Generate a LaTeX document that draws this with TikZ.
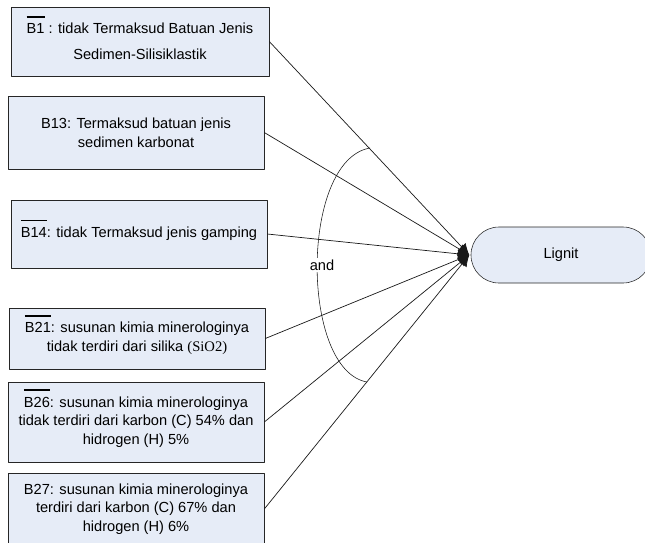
\documentclass[tikz,border=0pt]{standalone}
\usepackage{fontspec}
\setmainfont{Liberation Sans}
\newfontfamily\timesfont{Liberation Serif}
\usetikzlibrary{arrows.meta}
\definecolor{boxblue}{RGB}{230,236,247}
% garis atas untuk premis negasi
\newcommand{\notB}[1]{\setbox0\hbox{#1}\rlap{\smash{\raisebox{1.12em}{\rule{\wd0}{1pt}}}}\box0\relax}
\begin{document}
\begin{tikzpicture}[x=0.025cm, y=-0.025cm, line join=round,
		font=\fontsize{10.4}{13.2}\selectfont,
		rule/.style={draw=black!85, fill=boxblue, align=center, inner sep=2pt, minimum width=6.4cm},
		goal/.style={draw=black!85, fill=boxblue, rounded corners=0.7cm, minimum width=4.5cm, minimum height=1.4cm},
		conn/.style={draw=black!90, line width=0.5pt, -{Latex[length=8pt,width=8pt]}}]
	\useasboundingbox (0,0) rectangle (645,542);
	\clip (0,0) rectangle (645,542);
	% premis
	\node[rule, minimum width=6.45cm, minimum height=1.725cm] (b1) at (140,41.5)
		{\notB{B1} : tidak Termaksud Batuan Jenis\\[5pt]Sedimen-Silisiklastik};
	\node[rule, minimum height=1.825cm] (b13) at (136,132.5)
		{B13: Termaksud batuan jenis\\sedimen karbonat};
	\node[rule, minimum height=1.7cm] (b14) at (139,234)
		{\notB{B14}: tidak Termaksud jenis gamping};
	\node[rule, minimum height=1.525cm] (b21) at (137,338.5)
		{\notB{B21}: susunan kimia minerologinya\\tidak terdiri dari silika {\timesfont(SiO2)}};
	\node[rule, minimum height=2cm] (b26) at (136,422)
		{\notB{B26}: susunan kimia minerologinya\\tidak terdiri dari karbon (C) 54\% dan\\hidrogen (H) 5\%};
	\node[rule, minimum height=1.8cm] (b27) at (136,509)
		{B27: susunan kimia minerologinya\\terdiri dari karbon (C) 67\% dan\\hidrogen (H) 6\%};
	% kesimpulan
	\node[goal] (lignit) at (561,255) {Lignit};
	\coordinate (tip) at ([xshift=-1pt]lignit.west);
	\foreach \b in {b1,b13,b14,b21,b26,b27}
		\draw[conn] (\b.east) -- (tip);
	% busur and
	\coordinate (atas) at (370,148);
	\coordinate (bawah) at (367,382);
	\draw[black!90] (atas) .. controls (300,160) and (300,370) .. (bawah);
	\node[fill=white, inner sep=1pt] (and) at (322,265) {and};
\end{tikzpicture}
\end{document}
